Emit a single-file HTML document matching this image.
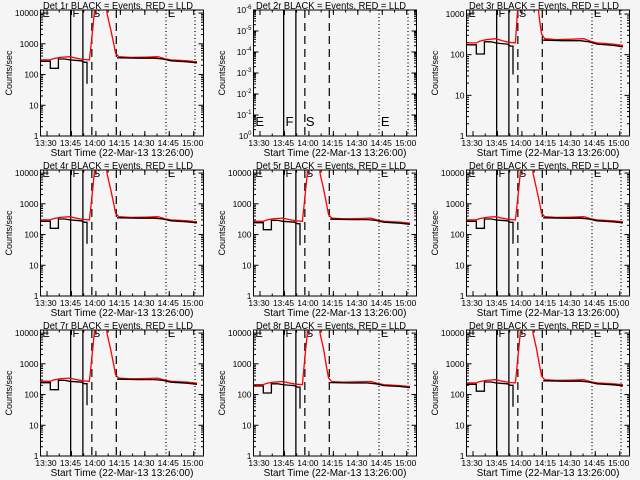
<!DOCTYPE html>
<html><head><meta charset="utf-8"><style>
html,body{margin:0;padding:0;background:#f5f5f5;}
svg{display:block;font-family:"Liberation Sans",sans-serif;}
</style></head><body>
<svg id="c" width="640" height="480" viewBox="0 0 640 480" xmlns="http://www.w3.org/2000/svg">
<rect width="640" height="480" fill="#f5f5f5"/>
</svg>
<script>
// Time axis: minutes since 13:26:00
const xTickLabels = ["13:30","13:45","14:00","14:15","14:30","14:45","15:00"];
const xTickMinutes = [4,19,34,49,64,79,94];
const panelTitles = ["Det 1r","Det 2r","Det 3r","Det 4r","Det 5r","Det 6r","Det 7r","Det 8r","Det 9r"];
const panelScale = [1.0,0,0.65,1.0,0.9,1.0,0.9,0.7,0.8];
const panelYMaxExp = [4.1,0,3.1,4.1,4.1,4.1,4.1,4.1,4.1];
// black (events) profile, two segments
const blackT1 = [0,6,6,11,11,15,18,21,25,27,28.5,28.5];
const blackV1 = [270,270,160,160,320,320,300,290,280,250,250,50];
const blackT2 = [47,48,60,70,75,80,90,96];
const blackV2 = [350,350,340,340,320,280,260,240];
// red (LLD) profile
const redT = [0,6,8,12,18,22,26,30,31.5,33,34,40,41,43,45,46,48,55,65,72,76,80,90,96];
const redV = [300,300,330,360,380,340,310,300,1500,10000,20000,20000,9000,3000,1000,500,380,360,370,380,330,300,280,260];
// markers
const solidLines = [18.5,26];
const dashedLines = [31.5,46.5];
const dottedLines = [77,94.8];
const markerLetters = ["E","F","S","E"];
const markerTimes = [0.5,19,31.5,77.5];

const NS="http://www.w3.org/2000/svg";
const svg=document.getElementById('c');
function mk(tag,attrs,parent){const e=document.createElementNS(NS,tag);for(const k in attrs)e.setAttribute(k,attrs[k]);(parent||svg).appendChild(e);return e;}

const colX=[0,213,426], rowY=[0,160,320];
const BL=40.5, BW=163, BT=10, BB=136, TMAX=100;

for(let p=0;p<9;p++){
  const ox=colX[p%3], oy=rowY[Math.floor(p/3)];
  const g=mk('g',{transform:`translate(${ox},${oy})`});
  
  
  const xs=t=>BL+t*BW/TMAX;
  const empty=(p===1);
  const yMaxE=empty?6:panelYMaxExp[p];
  const ys=v=>BB-(Math.log10(v)/yMaxE)*(BB-BT);
  const yse=e=>BB-(e/yMaxE)*(BB-BT);
  // title
  const ti=mk('text',{x:BL+BW/2-4,y:9,'font-size':10,'text-anchor':'middle',fill:'#000',textLength:150,lengthAdjust:'spacingAndGlyphs'},g);
  ti.textContent=panelTitles[p]+" BLACK = Events, RED = LLD";
  
  
  // box
  const bx=mk('rect',{x:BL,y:BT,width:BW,height:BB-BT,fill:'none',stroke:'#000','stroke-width':1},g);
  
  
  // x ticks
  xTickMinutes.forEach((m,i)=>{
    const x=xs(m);
    mk('line',{x1:x,y1:BB,x2:x,y2:BB-5,stroke:'#000'},g);
    mk('line',{x1:x,y1:BT,x2:x,y2:BT+5,stroke:'#000'},g);
    const t=mk('text',{x:x-1,y:BB+10,'font-size':8.5,'text-anchor':'middle'},g);
    t.textContent=xTickLabels[i];
    
    
  });
  for(let m=4-7.5;m<TMAX;m+=7.5){ if(m<0)continue; const x=xs(m);
    mk('line',{x1:x,y1:BB,x2:x,y2:BB-2.5,stroke:'#000'},g);
    mk('line',{x1:x,y1:BT,x2:x,y2:BT+2.5,stroke:'#000'},g);}
  const xl=mk('text',{x:BL+BW/2,y:BB+20,'font-size':10,'text-anchor':'middle'},g);
  xl.textContent="Start Time (22-Mar-13 13:26:00)";
  
  
  const yl=mk('text',{x:0,y:0,'font-size':9,'text-anchor':'middle',transform:`translate(12,${(BT+BB)/2}) rotate(-90)`},g);
  yl.textContent="Counts/sec";
  
  
  // y ticks
  const maxDec=Math.floor(yMaxE);
  for(let e=0;e<=maxDec;e++){
    const y=yse(e);
    mk('line',{x1:BL,y1:y,x2:BL+5,y2:y,stroke:'#000'},g);
    mk('line',{x1:BL+BW,y1:y,x2:BL+BW-5,y2:y,stroke:'#000'},g);
    const t=mk('text',{x:BL-2,y:y+3,'font-size':8.5,'text-anchor':'end'},g);
    if(empty){t.textContent="10"; const s=mk('tspan',{dy:-4,'font-size':6},t); s.textContent=(e===0?"0":"-"+e);}
    else t.textContent=String(Math.pow(10,e));
    
    
    for(let k=2;k<10;k++){const e2=e+Math.log10(k); if(e2>yMaxE)break; const y2=yse(e2);
      mk('line',{x1:BL,y1:y2,x2:BL+2.5,y2:y2,stroke:'#000'},g);
      mk('line',{x1:BL+BW,y1:y2,x2:BL+BW-2.5,y2:y2,stroke:'#000'},g);}
  }
  // vertical marker lines
  solidLines.forEach(t=>{const l=mk('line',{x1:xs(t),y1:BT,x2:xs(t),y2:BB,stroke:'#000','stroke-width':1.3},g);
    });
  dashedLines.forEach(t=>{const l=mk('line',{x1:xs(t),y1:BT,x2:xs(t),y2:BB,stroke:'#000','stroke-width':1.2,'stroke-dasharray':'8,5'},g);
    });
  dottedLines.forEach(t=>{const l=mk('line',{x1:xs(t),y1:BT,x2:xs(t),y2:BB,stroke:'#000','stroke-width':1.2,'stroke-dasharray':'1,2.5'},g);
    });
  // letters
  markerTimes.forEach((t,i)=>{
    const lt=mk('text',{x:xs(t)+1,y:empty?126:BT+7,'font-size':empty?13:11,fill:'#000'},g);
    lt.textContent=markerLetters[i];
    
    
  });
  if(empty) continue;
  const cid='clip'+p;
  const cp=mk('clipPath',{id:cid},g); mk('rect',{x:BL,y:BT,width:BW,height:BB-BT},cp);
  const sc=panelScale[p];
  function path(T,V,col,name){
    let d='';
    for(let i=0;i<T.length;i++){d+=(i?'L':'M')+xs(T[i]).toFixed(1)+','+ys(V[i]*(V[i]>1000?1:sc)).toFixed(1);}
    const pe=mk('path',{d:d,fill:'none',stroke:col,'stroke-width':1.3,'clip-path':`url(#${cid})`},g);
    
    
  }
  path(redT,redV,'#ff0000','red-lld-series');
  path(blackT1,blackV1,'#000','black-events-series');
  path(blackT2,blackV2,'#000','black-events-series');
}
</script>
</body></html>
